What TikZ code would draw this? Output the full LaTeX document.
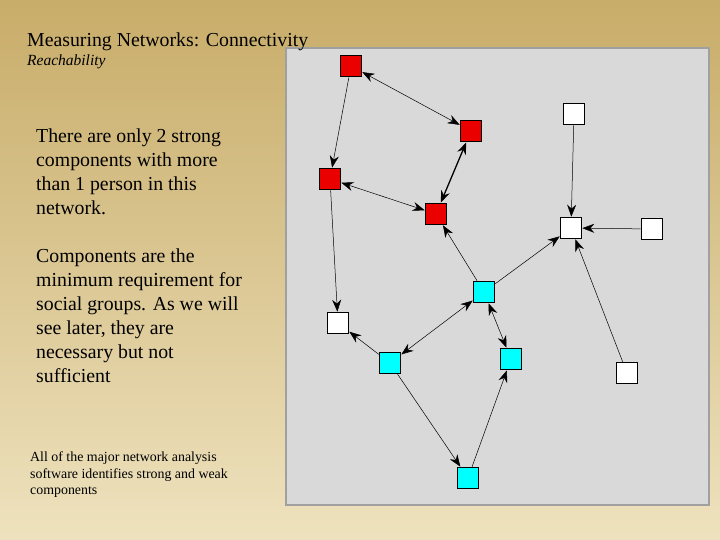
\documentclass[tikz,border=0pt]{standalone}
\usepackage{fontspec}
\setmainfont{Liberation Serif}
\usetikzlibrary{arrows.meta}
\definecolor{cy}{RGB}{0,255,255}
\definecolor{rd}{RGB}{235,0,0}
\begin{document}
\begin{tikzpicture}[x=1pt,y=-1pt,
  sq/.style={draw=black,line width=1.6pt,minimum size=21pt,inner sep=0pt},
  red/.style={sq,fill=rd},
  wht/.style={sq,fill=white},
  cyn/.style={sq,fill=cy},
  e/.style={line width=0.5pt,-{Stealth[length=12pt,width=9pt]}},
  be/.style={line width=0.5pt,{Stealth[length=12pt,width=9pt]}-{Stealth[length=12pt,width=9pt]}},
  txt/.style={anchor=north west,align=left,inner sep=0pt}]
\useasboundingbox (0,0) rectangle (720,540);
\shade[top color={rgb,255:red,200;green,172;blue,105}, bottom color={rgb,255:red,238;green,226;blue,190}] (0,0) rectangle (720,540);
\node[draw={rgb,255:red,160;green,160;blue,160},line width=2pt,fill={rgb,255:red,217;green,217;blue,217},minimum width=423pt,minimum height=457pt,anchor=north west,inner sep=0pt] (panel) at (285,47) {};
\node[txt,font=\fontsize{19.8}{20}\selectfont] (title) at (27,33) {Measuring Networks: Connectivity};
\node[txt,font=\fontsize{15.5}{15}\itshape] (sub) at (27,55) {Reachability};
\node[txt,font=\fontsize{19.8}{24}\selectfont] (p1) at (36,129) {There are only 2 strong\\components with more\\than 1 person in this\\network.};
\node[txt,font=\fontsize{19.8}{24}\selectfont] (p2) at (36,249) {Components are the\\minimum requirement for\\social groups.  As we will\\see later, they are\\necessary but not\\sufficient};
\node[txt,font=\fontsize{13.9}{16.5}\selectfont] (p3) at (30,452) {All of the major network analysis\\software identifies strong and weak\\components};
\node[red] (R1) at (351,66) {};
\node[red] (R2) at (471,131) {};
\node[red] (R3) at (330,179) {};
\node[red] (R4) at (436,214) {};
\node[wht] (W1) at (574,114) {};
\node[wht] (W2) at (571,228) {};
\node[wht] (W3) at (652,229) {};
\node[cyn] (C1) at (484,292) {};
\node[wht] (W4) at (338,323) {};
\node[cyn] (C2) at (390,363) {};
\node[cyn] (C3) at (511,359) {};
\node[wht] (W5) at (627,373) {};
\node[cyn] (C4) at (468,478) {};
\draw[be] (R1) -- (R2);
\draw[e] (R1) -- (R3);
\draw[be,line width=1.3pt] (R2) -- (R4);
\draw[be] (R3) -- (R4);
\draw[e] (R3) -- (W4);
\draw[e] (C1) -- (R4);
\draw[e] (C1) -- (W2);
\draw[be] (C1) -- (C2);
\draw[be] (C1) -- (C3);
\draw[e] (C2) -- (W4);
\draw[e] (C2) -- (C4);
\draw[e] (C4) -- (C3);
\draw[e] (W1) -- (W2);
\draw[e] (W3) -- (W2);
\draw[e] (W5) -- (W2);
\end{tikzpicture}
\end{document}
